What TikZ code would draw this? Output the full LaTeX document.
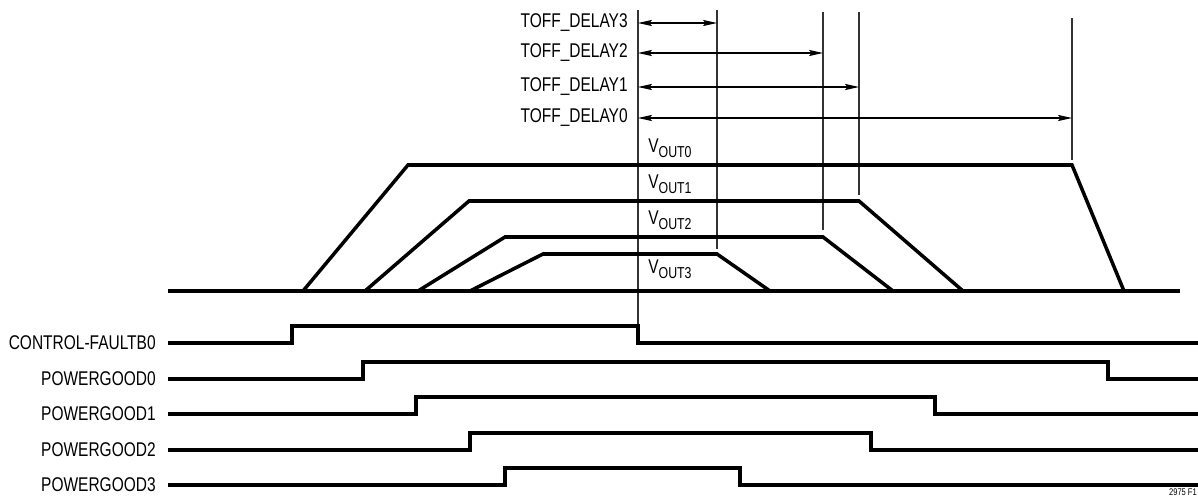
\documentclass[tikz,border=0pt]{standalone}
\usepackage{fontspec}
\setmainfont{Liberation Sans}[FakeStretch=0.78]
\usetikzlibrary{arrows.meta}

\tikzset{
  wave/.style={line width=2pt, line join=miter},
  marker/.style={line width=0.6pt, black!80},
  dim/.style={line width=0.6pt, {Stealth[length=8pt,width=3.5pt,inset=1.5pt]}-{Stealth[length=8pt,width=3.5pt,inset=1.5pt]}},
  lbl/.style={anchor=east, inner sep=0pt}
}
\newcommand{\vout}[1]{V\raisebox{-0.45ex}{\fontsize{9}{10}\selectfont OUT#1}}

\begin{document}
\begin{tikzpicture}[x=0.02cm, y=-0.02cm, font=\fontsize{11.3}{13}\selectfont]
\useasboundingbox (0,0) rectangle (1198,497);

% fault instant and delay markers
\draw[marker] (638,10) coordinate (f) -- (638,343);
\foreach \n/\x/\top/\bot/\y in {3/717/10/249/23, 2/823/12/230/53, 1/859/12/195/87, 0/1072/18/160/118} {
  \node[lbl] (d\n) at (628,\y) {TOFF\_DELAY\n};
  \draw[marker] (\x,\top) coordinate (m\n) -- (\x,\bot);
  \draw[dim] (f |- d\n.east) -- (m\n |- d\n.east);
}

% output voltages
\draw[wave] (168,291) -- (1180,291);
\draw[wave] (303,291) -- (408,165) -- (1072,165) -- (1124,291);
\draw[wave] (365,291) -- (469,201) -- (859,201) -- (963,291);
\draw[wave] (418,291) -- (505,237) -- (823,237) -- (893,291);
\draw[wave] (470,291) -- (543,254) -- (717,254) -- (770,291);
\node[anchor=west, inner sep=0pt] (v0) at (648,148) {\vout{0}};
\node[anchor=west, inner sep=0pt] (v1) at (648,184) {\vout{1}};
\node[anchor=west, inner sep=0pt] (v2) at (648,220) {\vout{2}};
\node[anchor=west, inner sep=0pt] (v3) at (648,269) {\vout{3}};

% logic signals
\foreach \name/\txt/\y/\r/\f in {cf/CONTROL-FAULTB0/343/292/638, pg0/POWERGOOD0/379/363/1108,
    pg1/POWERGOOD1/414/416/935, pg2/POWERGOOD2/450/470/871, pg3/POWERGOOD3/485/505/740} {
  \node[lbl] (\name) at (156,\y) {\txt};
  \draw[wave] (168,\y) -- (\r,\y) -- (\r,\y-17) -- (\f,\y-17) -- (\f,\y) -- (1198,\y);
}

\node[anchor=south east, inner sep=0.5pt, font=\fontsize{5.5}{6}\selectfont] (fig) at (1198,497) {2975 F1};
\end{tikzpicture}
\end{document}
